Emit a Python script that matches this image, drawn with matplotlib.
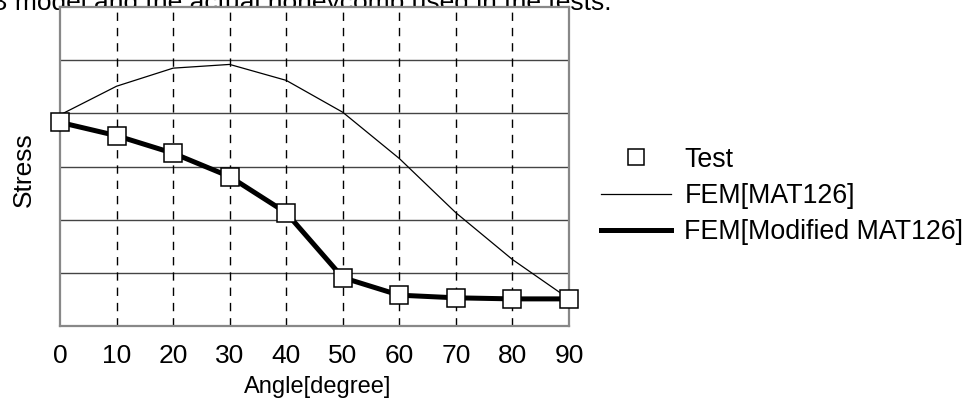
import matplotlib.pyplot as plt
from matplotlib.lines import Line2D

plt.rcParams['font.family'] = ['Liberation Sans', 'DejaVu Sans']

angles = [0, 10, 20, 30, 40, 50, 60, 70, 80, 90]
fem_mat126 = [3.97, 4.51, 4.85, 4.92, 4.62, 4.02, 3.15, 2.13, 1.25, 0.51]
fem_modified = [3.83, 3.58, 3.25, 2.81, 2.13, 0.91, 0.58, 0.53, 0.51, 0.51]
test = [3.83, 3.58, 3.25, 2.81, 2.13, 0.91, 0.58, 0.53, 0.51, 0.51]
xticks = [0, 10, 20, 30, 40, 50, 60, 70, 80, 90]
yticks = [1, 2, 3, 4, 5]

fig = plt.figure(figsize=(9.71, 4.01), dpi=100)
ax = fig.add_axes([60 / 971, 1 - 326 / 401, 509 / 971, 319 / 401])

# cut-off caption from the page above the chart, hidden behind the axes
fig.text(611 / 971, 1 - 10 / 401, 'B model and the actual honeycomb used in the tests.',
         ha='right', va='baseline', fontsize=19, zorder=-1)

ax.set_xlim(0, 90)
ax.set_ylim(0, 6)
ax.set_xticks(xticks)
ax.set_yticks(yticks)
ax.set_yticklabels([])
ax.tick_params(length=0)
ax.tick_params(axis='x', labelsize=19, pad=13)

for y in yticks:
    ax.axhline(y, color='#444444', lw=1.0, zorder=1)
for x in xticks[1:-1]:
    ax.axvline(x, color='black', lw=1.0, ls=(0, (6, 5)), zorder=1)
for s in ax.spines.values():
    s.set_color('#888888')
    s.set_linewidth(1.6)

ax.plot(angles, fem_mat126, color='black', lw=0.9, zorder=2, clip_on=False)
ax.plot(angles, fem_modified, color='black', lw=3.6, zorder=3, clip_on=False)
ax.plot(angles, test, ls='none', marker='s', ms=13, mfc='white', mec='black',
        mew=1.1, zorder=4, clip_on=False)

fig.text(318 / 971, 1 - 387 / 401, 'Angle[degree]', ha='center', va='center', fontsize=17)
fig.text(24 / 971, 1 - 170 / 401, 'Stress', ha='center', va='center', rotation=90, fontsize=19)

handles = [
    Line2D([], [], ls='none', marker='s', ms=11, mfc='white', mec='black', mew=1.1),
    Line2D([], [], color='black', lw=0.9),
    Line2D([], [], color='black', lw=3.6),
]
labels = ['Test', 'FEM[MAT126]', 'FEM[Modified MAT126]']
fig.legend(handles, labels, loc='center left', bbox_to_anchor=(588 / 971, 1 - 196 / 401),
           frameon=False, fontsize=19.3, borderpad=0, handlelength=2.6,
           handletextpad=0.5, labelspacing=0.38)

fig.savefig('out.png', dpi=100)
